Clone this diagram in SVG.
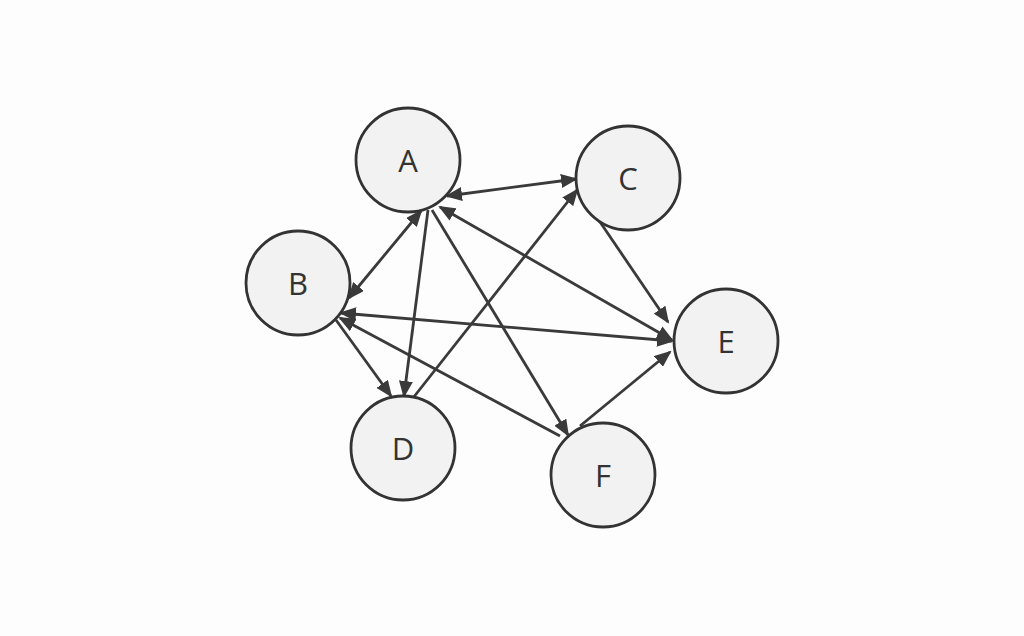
<svg xmlns="http://www.w3.org/2000/svg" width="1024" height="636" viewBox="0 0 1024 636">
<style>
.node circle{fill:#f2f2f2;stroke:#333;stroke-width:2.8}
.node text{font-family:"Open Sans","Noto Sans",sans-serif;font-size:31px;fill:#333;text-anchor:middle;dominant-baseline:central}
.edges line{stroke:#3a3a3a;stroke-width:2.8;fill:none}
.one{marker-end:url(#ah)}
.two{marker-end:url(#ah);marker-start:url(#ah)}
</style>
<defs>
<marker id="ah" markerUnits="userSpaceOnUse" markerWidth="18" markerHeight="14" refX="15" refY="7" orient="auto-start-reverse">
<path d="M0,0 L17,7 L0,14 z" fill="#3a3a3a"/>
</marker>
</defs>
<rect width="1024" height="636" fill="#fdfdfd"/>
<g class="edges">
<line class="two" x1="447" y1="196" x2="576" y2="179"/>
<line class="two" x1="421" y1="211" x2="349" y2="298"/>
<line class="one" x1="428" y1="210" x2="404" y2="396"/>
<line class="one" x1="432" y1="210" x2="568" y2="435"/>
<line class="two" x1="440" y1="207" x2="672" y2="340"/>
<line class="one" x1="598" y1="219" x2="668" y2="322"/>
<line class="two" x1="341" y1="313" x2="672" y2="341"/>
<line class="one" x1="336" y1="320" x2="391" y2="396"/>
<line class="one" x1="413" y1="398" x2="577" y2="190"/>
<line class="one" x1="560" y1="436" x2="340" y2="318"/>
<line class="one" x1="580" y1="426" x2="670" y2="352"/>
</g>
<g id="A" class="node"><circle cx="408" cy="160" r="52"/><text x="408" y="160">A</text></g>
<g id="C" class="node"><circle cx="628" cy="178" r="52"/><text x="628" y="178">C</text></g>
<g id="B" class="node"><circle cx="298" cy="283" r="52"/><text x="298" y="283">B</text></g>
<g id="E" class="node"><circle cx="726" cy="341" r="52"/><text x="726" y="341">E</text></g>
<g id="D" class="node"><circle cx="403" cy="448" r="52"/><text x="403" y="448">D</text></g>
<g id="F" class="node"><circle cx="603" cy="475" r="52"/><text x="603" y="475">F</text></g>
</svg>
